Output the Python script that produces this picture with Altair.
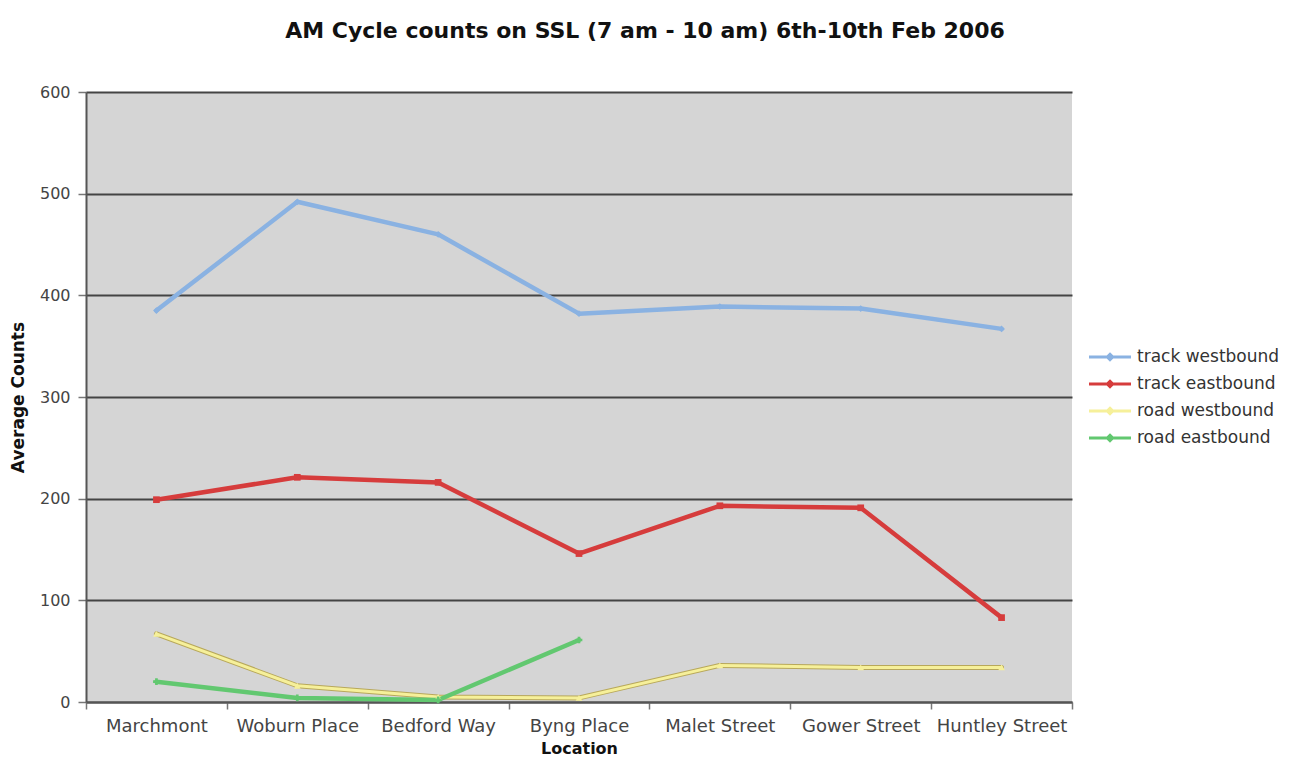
import altair as alt
import pandas as pd

locations = ["Marchmont", "Woburn Place", "Bedford Way", "Byng Place",
             "Malet Street", "Gower Street", "Huntley Street"]
track_westbound = [385, 492, 460, 382, 389, 387, 367]
track_eastbound = [199, 221, 216, 146, 193, 191, 83]
road_westbound = [67, 16, 5, 4, 36, 34, 34]
road_eastbound = [20, 4, 2, 61, None, None, None]

series_names = ["track westbound", "track eastbound", "road westbound", "road eastbound"]
series_values = [track_westbound, track_eastbound, road_westbound, road_eastbound]
series_colors = ["#8ab2e2", "#d63c3c", "#f6f09a", "#62c870"]
series_shapes = ["diamond", "square", "triangle-up", "cross"]

rows = []
for name, vals in zip(series_names, series_values):
    for loc, v in zip(locations, vals):
        if v is not None:
            rows.append({"Location": loc, "Series": name, "Count": v})
df = pd.DataFrame(rows)

x_enc = alt.X("Location:N", sort=locations, title="Location",
              scale=alt.Scale(paddingInner=0, paddingOuter=0),
              axis=alt.Axis(labelAngle=0, tickBand="extent", tickSize=7,
                            labelPadding=8, titlePadding=5))
y_enc = alt.Y("Count:Q", title="Average Counts",
              scale=alt.Scale(domain=[0, 600], nice=False),
              axis=alt.Axis(values=[0, 100, 200, 300, 400, 500, 600], tickSize=8,
                            labelPadding=8, titlePadding=12))
color_enc = alt.Color("Series:N",
                      scale=alt.Scale(domain=series_names, range=series_colors),
                      legend=alt.Legend(title=None, orient="none", legendX=1012, legendY=253,
                                        padding=0,
                                        symbolType="M-2,0L2,0M0,-0.25L0.25,0L0,0.25L-0.25,0Z",
                                        symbolSize=441, symbolStrokeWidth=3,
                                        labelFontSize=17, labelColor="#333333",
                                        labelFont="DejaVu Sans", rowPadding=6,
                                        labelOffset=15))

base = alt.Chart(df)

yellow_edge = base.transform_filter(alt.datum.Series == "road westbound").mark_line(
    strokeWidth=5, color="#b8a85a", strokeCap="round", strokeJoin="round"
).encode(x=x_enc, y=y_enc)

lines = base.mark_line(strokeCap="round", strokeJoin="round").encode(
    x=x_enc, y=y_enc, color=color_enc,
    strokeWidth=alt.condition(alt.datum.Series == "road westbound", alt.value(3), alt.value(4.5)),
)

point_layers = []
for name, col, shp in zip(series_names, series_colors, series_shapes):
    point_layers.append(
        base.transform_filter(alt.datum.Series == name).mark_point(
            filled=True, size=45, opacity=1, color=col, shape=shp
        ).encode(x=x_enc, y=y_enc)
    )

chart = alt.layer(yellow_edge, lines, *point_layers).properties(
    width=986, height=610,
    background="white",
    autosize=alt.AutoSizeParams(type="none"),
    padding={"left": 78, "top": 84, "right": 210, "bottom": 58},
    title=alt.Title("AM Cycle counts on SSL (7 am - 10 am) 6th-10th Feb 2006",
                    fontSize=22, font="DejaVu Sans", fontWeight="bold", color="#111111",
                    anchor="middle", dx=66, offset=41),
).configure_view(
    fill="#d5d5d5", stroke=None
).configure_axis(
    labelFont="DejaVu Sans", labelFontSize=16, labelColor="#444444",
    titleFont="DejaVu Sans", titleFontSize=17, titleFontWeight="bold", titleColor="#111111",
    domainColor="#555555", domainWidth=2, tickColor="#777777", tickWidth=1.5,
    gridColor="#444444", gridWidth=2, gridOpacity=1
).configure_axisX(
    grid=False, labelFontSize=18, titleFontSize=16
)

chart.save("out.html", embed_options={"renderer": "svg", "actions": False})
